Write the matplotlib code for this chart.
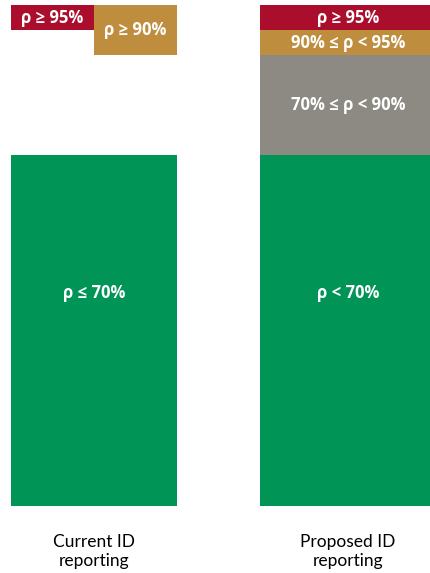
import matplotlib
matplotlib.use("Agg")
from matplotlib import pyplot as plt

# reporting schemes (x positions 0 and 1)
columns = ["Current ID\nreporting", "Proposed ID\nreporting"]

# current scheme: overlapping bands, drawn side by side at the top
cur_labels = ["ρ ≤ 70%", "ρ ≥ 95%", "ρ ≥ 90%"]
cur_low = [0, 95, 90]
cur_high = [70, 100, 100]
cur_colors = ["#009456", "#AB0D2C", "#BF8D3E"]

# proposed scheme: stacked bands
new_labels = ["ρ < 70%", "70% ≤ ρ < 90%", "90% ≤ ρ < 95%", "ρ ≥ 95%"]
new_low = [0, 70, 90, 95]
new_high = [70, 90, 95, 100]
new_colors = ["#009456", "#8C8A83", "#BF8D3E", "#AB0D2C"]

label_y_green = 42.5  # green labels sit above the band centre

fig = plt.figure(figsize=(4.3, 5.73), dpi=100)
ax = fig.add_axes([0, 0, 1, 1])

w_cur = 0.654
w_new = 0.693
fnt = dict(color="white", fontweight="bold", family=["Open Sans", "DejaVu Sans"],
           ha="center", va="center", fontsize=12)

# current: green full width, red left half, gold right half
x_cur = [-w_cur / 2, -w_cur / 2, 0]
widths = [w_cur, w_cur / 2, w_cur / 2]
for lab, lo, hi, c, x0, w in zip(cur_labels, cur_low, cur_high, cur_colors, x_cur, widths):
    ax.bar(x0, hi - lo, bottom=lo, width=w, align="edge", color=c, linewidth=0)
    ty = label_y_green if lo == 0 else (lo + hi) / 2
    ax.text(x0 + w / 2, ty, lab, **fnt)

for lab, lo, hi, c in zip(new_labels, new_low, new_high, new_colors):
    ax.bar(1, hi - lo, bottom=lo, width=w_new, color=c, linewidth=0)
    ty = label_y_green if lo == 0 else (lo + hi) / 2
    ax.text(1, ty, lab, **fnt)

for i, lab in enumerate(columns):
    ax.text(i, -9.1, lab, ha="center", va="center", fontsize=12.5,
            family=["Lato", "DejaVu Sans"], color="black", linespacing=1.2)

ax.set_xlim(-0.370, 1.323)
ax.set_ylim(-13.37, 101.0)
ax.axis("off")

fig.savefig("out.png", dpi=100)
